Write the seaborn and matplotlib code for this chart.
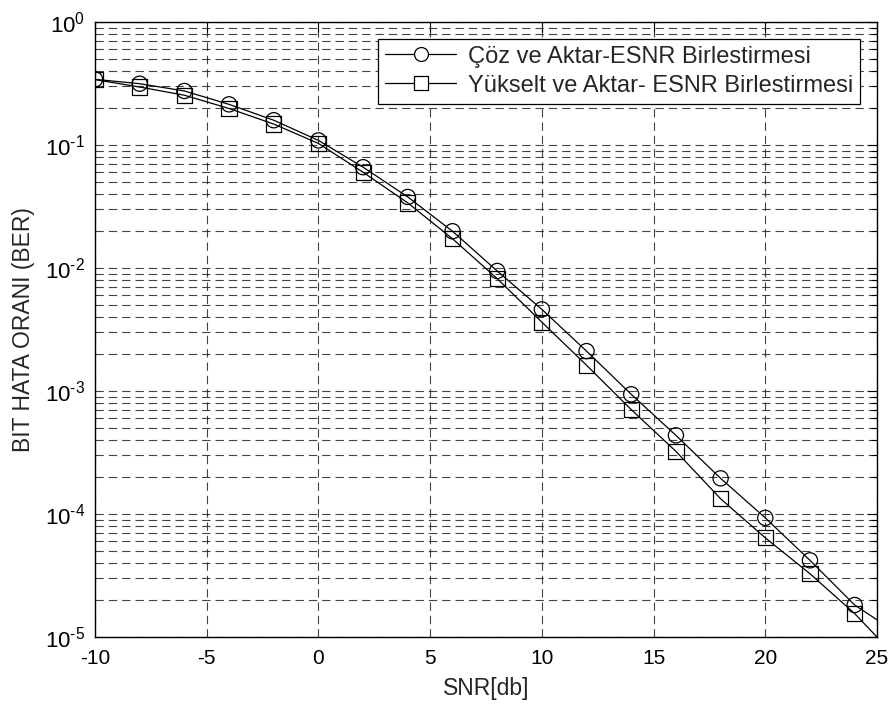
import numpy as np
import pandas as pd
import matplotlib
matplotlib.use("Agg")
import matplotlib.pyplot as plt
from matplotlib.lines import Line2D
from matplotlib.ticker import LogLocator, NullFormatter, FixedLocator, FuncFormatter
import seaborn as sns

# SNR points (dB) where the BER was evaluated
snr_db = [-10, -8, -6, -4, -2, 0, 2, 4, 6, 8, 10, 12, 14, 16, 18, 20, 22, 24]

# Decode-and-forward with ESNR combining
ber_decode = [0.342, 0.315, 0.275, 0.214, 0.159, 0.109, 0.066, 0.0378, 0.0199,
              0.00946, 0.00461, 0.00211, 0.00094, 0.000436, 0.000195,
              9.3e-5, 4.2e-5, 1.82e-5]
# Amplify-and-forward with ESNR combining
ber_amplify = [0.34, 0.296, 0.254, 0.198, 0.148, 0.103, 0.060, 0.0338, 0.0173,
               0.0082, 0.00363, 0.00162, 0.000706, 0.000323, 0.000133,
               6.4e-5, 3.27e-5, 1.55e-5]

# Curves continue to the right edge of the axis
curve_snr = snr_db + [25]
curve_decode = ber_decode + [1.38e-5]
curve_amplify = ber_amplify + [1.0e-5]

labels = ["Çöz ve Aktar-ESNR Birlestirmesi", "Yükselt ve Aktar- ESNR Birlestirmesi"]
x_ticks = [-10, -5, 0, 5, 10, 15, 20, 25]

sns.set_style("white")
plt.rcParams["font.family"] = ["Liberation Sans", "DejaVu Sans"]
plt.rcParams["mathtext.fontset"] = "custom"
plt.rcParams["mathtext.rm"] = "Liberation Sans"
plt.rcParams["mathtext.it"] = "Liberation Sans"
plt.rcParams["axes.unicode_minus"] = False

fig = plt.figure(figsize=(8.93, 7.05), dpi=100)
ax = fig.add_axes([95 / 893, 1 - 637 / 705, (877 - 95) / 893, (637 - 22) / 705])

curves = pd.DataFrame({
    "snr": curve_snr * 2,
    "ber": curve_decode + curve_amplify,
    "scheme": [labels[0]] * len(curve_snr) + [labels[1]] * len(curve_snr),
})
points = pd.DataFrame({
    "snr": snr_db * 2,
    "ber": ber_decode + ber_amplify,
    "scheme": [labels[0]] * len(snr_db) + [labels[1]] * len(snr_db),
})

sns.lineplot(data=curves, x="snr", y="ber", hue="scheme",
             palette=["black", "black"], linewidth=0.9, legend=False,
             sort=False, ax=ax, zorder=3)
sns.scatterplot(data=points, x="snr", y="ber", style="scheme",
                markers={labels[0]: "o", labels[1]: "s"},
                s=120, facecolors="none", edgecolor="black", linewidth=0.9,
                legend=False, ax=ax, zorder=4)
for coll in ax.collections:
    coll.set_facecolor("none")
    coll.set_edgecolor("black")


def decade_label(value, _pos):
    exp = int(round(np.log10(value)))
    if exp < 0:
        return r"$\mathdefault{10^{\text{-}%d}}$" % (-exp)
    return r"$\mathdefault{10^{%d}}$" % exp


ax.set_yscale("log")
ax.set_xlim(-10, 25)
ax.set_ylim(1e-5, 1)
ax.xaxis.set_major_locator(FixedLocator(x_ticks))
ax.yaxis.set_major_locator(LogLocator(base=10, numticks=10))
ax.yaxis.set_major_formatter(FuncFormatter(decade_label))
ax.yaxis.set_minor_locator(LogLocator(base=10, subs=np.arange(2, 10), numticks=20))
ax.yaxis.set_minor_formatter(NullFormatter())

grid_style = dict(color="#222222", linestyle=(0, (7.5, 4.5)), linewidth=0.8, alpha=0.85)
ax.grid(True, which="major", axis="both", **grid_style)
ax.grid(True, which="minor", axis="y", **grid_style)
ax.set_axisbelow(True)

ax.tick_params(axis="both", which="both", direction="in", top=True, right=True,
               colors="black")
ax.tick_params(axis="x", labelsize=15, pad=9)
ax.tick_params(axis="y", labelsize=16, pad=7)
ax.tick_params(which="major", length=7, width=0.8)
ax.tick_params(which="minor", length=4, width=0.8)
for sp in ax.spines.values():
    sp.set_color("black")
    sp.set_linewidth(1.0)

ax.set_xlabel("SNR[db]", fontsize=16.5, labelpad=6)
ax.set_ylabel("BIT HATA ORANI (BER)", fontsize=16.5)
ax.yaxis.set_label_coords(-0.077, 0.5)

handles = [
    Line2D([], [], color="black", linewidth=0.9, marker="o", markersize=10,
           markerfacecolor="white", markeredgecolor="black", markeredgewidth=0.9),
    Line2D([], [], color="black", linewidth=0.9, marker="s", markersize=10,
           markerfacecolor="white", markeredgecolor="black", markeredgewidth=0.9),
]
leg = ax.legend(handles, labels, loc="upper right", fontsize=17, frameon=True,
                fancybox=False, edgecolor="black", framealpha=1,
                handlelength=3.0, borderpad=0.3, labelspacing=0.3,
                handletextpad=0.5, borderaxespad=0.7)
leg.get_frame().set_linewidth(0.9)

fig.savefig("out.png", dpi=100, facecolor="white")
